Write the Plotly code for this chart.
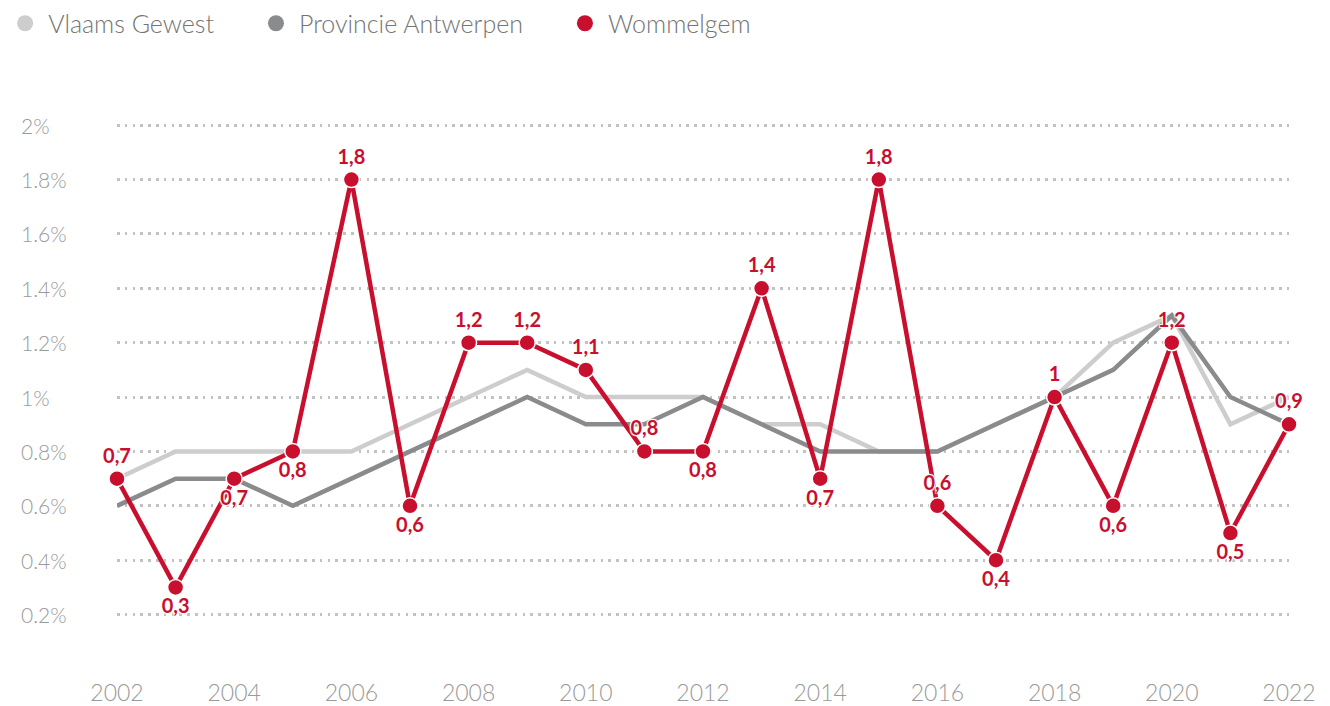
import plotly.graph_objects as go

years = list(range(2002, 2023))
vlaams = [0.7, 0.8, 0.8, 0.8, 0.8, 0.9, 1.0, 1.1, 1.0, 1.0, 1.0, 0.9, 0.9, 0.8, 0.8, 0.9, 1.0, 1.2, 1.3, 0.9, 1.0]
provincie = [0.6, 0.7, 0.7, 0.6, 0.7, 0.8, 0.9, 1.0, 0.9, 0.9, 1.0, 0.9, 0.8, 0.8, 0.8, 0.9, 1.0, 1.1, 1.3, 1.0, 0.9]
wommelgem = [0.7, 0.3, 0.7, 0.8, 1.8, 0.6, 1.2, 1.2, 1.1, 0.8, 0.8, 1.4, 0.7, 1.8, 0.6, 0.4, 1.0, 0.6, 1.2, 0.5, 0.9]
label_pos = ["top center", "bottom center", "bottom center", "bottom center", "top center",
             "bottom center", "top center", "top center", "top center", "top center",
             "bottom center", "top center", "bottom center", "top center", "top center",
             "bottom center", "top center", "bottom center", "top center", "bottom center",
             "top center"]
y_ticks = [0.2, 0.4, 0.6, 0.8, 1.0, 1.2, 1.4, 1.6, 1.8, 2.0]
y_tick_labels = ["0.2%", "0.4%", "0.6%", "0.8%", "1%", "1.2%", "1.4%", "1.6%", "1.8%", "2%"]
x_ticks = list(range(2002, 2023, 2))
series_names = ["Vlaams Gewest", "Provincie Antwerpen", "Wommelgem"]

C_VL = "#cdcdcd"
C_PR = "#898b8d"
C_WO = "#c8102e"
NB = "\u00a0"

def fmt(v):
    return ("%g" % v).replace(".", ",")

fig = go.Figure()
fig.add_trace(go.Scatter(x=years, y=vlaams, mode="lines", line=dict(color=C_VL, width=4.5),
                         showlegend=False, hoverinfo="skip", cliponaxis=False))
fig.add_trace(go.Scatter(x=years, y=provincie, mode="lines", line=dict(color=C_PR, width=4.5),
                         showlegend=False, hoverinfo="skip", cliponaxis=False))
fig.add_trace(go.Scatter(x=years, y=wommelgem, mode="lines+markers+text",
                         line=dict(color=C_WO, width=4.5),
                         marker=dict(color=C_WO, size=16, line=dict(color="white", width=1.5)),
                         text=[fmt(v) for v in wommelgem], textposition=label_pos,
                         textfont=dict(family="Lato", size=20, color=C_WO, weight="bold",
                                       shadow="1px 1px 1px #fff, -1px -1px 1px #fff, 1px -1px 1px #fff, -1px 1px 1px #fff"),
                         showlegend=False, cliponaxis=False))

pads = [NB * 5, NB * 5, ""]
for name, col, pad in zip(series_names, [C_VL, C_PR, C_WO], pads):
    fig.add_trace(go.Scatter(x=[None], y=[None], mode="markers", name=name + pad,
                             marker=dict(color=col, size=22)))

for v, t in zip(y_ticks, y_tick_labels):
    fig.add_annotation(x=-0.084, xref="paper", y=v, yref="y", text=t, showarrow=False,
                       xanchor="left", yanchor="middle",
                       font=dict(family="Lato", size=21, color="#9a9a9a", weight=300))

fig.update_layout(
    width=1330, height=706,
    margin=dict(l=109, r=49, t=109, b=45, autoexpand=False),
    plot_bgcolor="white", paper_bgcolor="white",
    font=dict(family="Lato", color="#8a8a8a"),
    legend=dict(orientation="h", xref="paper", yref="paper", x=-0.098, y=1.211,
                xanchor="left", yanchor="top",
                font=dict(family="Lato", size=25, color="#747474", weight=300),
                itemwidth=36, tracegroupgap=0),
    xaxis=dict(range=[2002, 2022], tickvals=x_ticks, showgrid=False, zeroline=False,
               showline=False, ticks="outside", ticklen=3, tickcolor="rgba(0,0,0,0)",
               automargin=False,
               tickfont=dict(family="Lato", size=23, color="#9a9a9a", weight=300)),
    yaxis=dict(range=[0, 2.03], tickvals=y_ticks, showticklabels=False, showgrid=True,
               gridcolor="#c2c2c2", gridwidth=2.5, griddash="2.5px,5.3px", zeroline=False,
               showline=False, automargin=False),
)

fig.write_html("out.html")
